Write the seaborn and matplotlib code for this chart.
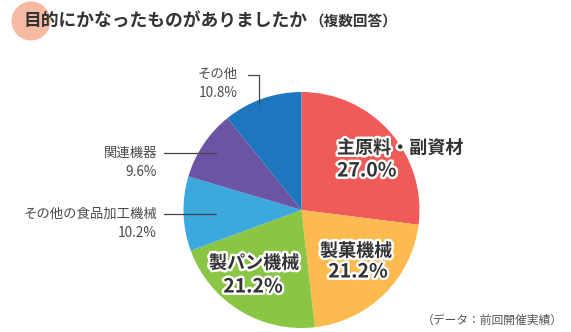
import matplotlib
matplotlib.use("Agg")
import matplotlib.pyplot as plt
import matplotlib.patheffects as pe
from matplotlib.patches import Circle
import seaborn as sns

categories = ["主原料・副資材", "製菓機械", "製パン機械", "その他の食品加工機械", "関連機器", "その他"]
values = [27.0, 21.2, 21.2, 10.2, 9.6, 10.8]
colors = ["#EF5B58", "#FDBA4F", "#8AC543", "#3BA8DE", "#6B54A3", "#1E77BE"]
title = "目的にかなったものがありましたか"
subtitle = "（複数回答）"
source = "（データ：前回開催実績）"

sns.set_theme(style="white")
plt.rcParams['font.family'] = ['Noto Sans CJK JP', 'DejaVu Sans']

W, H = 571, 332
fig = plt.figure(figsize=(W / 100, H / 100), dpi=100)
ax = fig.add_axes([0, 0, 1, 1])

def Y(y):
    return H - y

cx, cy, r = 301.5, 210, 118
ax.pie(values, colors=colors, startangle=90, counterclock=False,
       center=(cx, Y(cy)), radius=r, wedgeprops=dict(linewidth=0),
       frame=False)
ax.set_xlim(0, W)
ax.set_ylim(0, H)
ax.set_aspect('equal')
ax.axis('off')

# title
ax.add_patch(Circle((31, Y(21)), 19.5, color="#F6B9A1", zorder=1, lw=0))
ax.text(24, Y(22), title, fontsize=12.8, fontweight='bold', color="#333333",
        ha='left', va='center', zorder=3)
ax.text(309, Y(22), subtitle, fontsize=10.5, fontweight='bold', color="#333333",
        ha='left', va='center', zorder=3)

stroke = [pe.withStroke(linewidth=3.5, foreground="white")]
inner = {
    0: (337, 148, 337, 171, 'left'),
    1: (356, 251, 358, 272, 'center'),
    2: (254, 263, 253, 287, 'center'),
}
for i, (x1, y1, x2, y2, ha) in inner.items():
    ax.text(x1, Y(y1), categories[i], fontsize=13, fontweight='bold', color="#333333",
            ha=ha, va='center', path_effects=stroke, zorder=5)
    ax.text(x2, Y(y2), f"{values[i]:.1f}%", fontsize=14, fontweight='bold', color="#333333",
            ha=ha, va='center', path_effects=stroke, zorder=5)

# outer labels
outer = {
    5: (238, 74, 93),
    4: (157, 153, 172),
    3: (157, 214, 233),
}
for i, (xr, y1, y2) in outer.items():
    ax.text(xr, Y(y1), categories[i], fontsize=9.6, color="#4a4a4a", ha='right', va='center')
    ax.text(xr, Y(y2), f"{values[i]:.1f}%", fontsize=9.8, color="#4a4a4a", ha='right', va='center')

lc = "#444444"
ax.plot([248, 259, 259], [Y(75), Y(75), Y(104)], color=lc, lw=0.9, zorder=6)
ax.plot([164, 216], [Y(153), Y(153)], color=lc, lw=0.9, zorder=6)
ax.plot([164, 216], [Y(214), Y(214)], color=lc, lw=0.9, zorder=6)

ax.text(563, Y(320), source, fontsize=8.5, color="#555555", ha='right', va='center')

fig.savefig("out.png", dpi=100)
